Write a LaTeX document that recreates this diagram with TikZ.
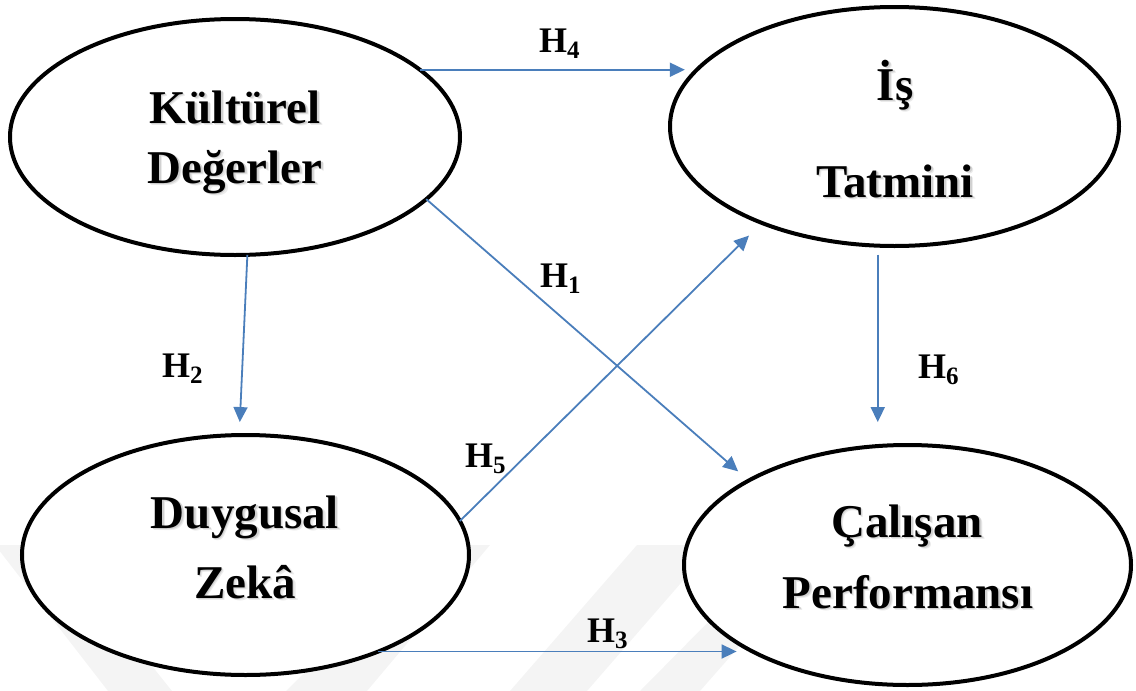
\documentclass[tikz,border=0pt]{standalone}
\usepackage{fontspec}
\setmainfont{Liberation Serif}
\usetikzlibrary{arrows.meta,shapes.geometric}
\definecolor{linkblue}{HTML}{4A7EBB}
\definecolor{wmgray}{gray}{0.955}
% bold title with a soft drop shadow
\newcommand\shadowed[1]{\makebox[0pt][l]{\kern2.6pt\raisebox{-2.6pt}{\textcolor{black!8}{#1}}}\makebox[0pt][l]{\kern1.5pt\raisebox{-1.5pt}{\textcolor{black!18}{#1}}}#1}
% hypothesis label H with a lowered index
\newcommand\hyp[1]{H\raisebox{-6pt}{\fontsize{25}{25}\selectfont #1}}
\begin{document}
\begin{tikzpicture}[x=1pt,y=-1pt,
  construct/.style={ellipse, draw=black, line width=4pt, fill=white, inner sep=0pt, outer sep=0pt},
  title/.style={font=\fontsize{47}{47}\selectfont\bfseries, inner sep=0pt, anchor=base},
  hlabel/.style={font=\fontsize{36}{36}\selectfont\bfseries, inner sep=0pt, anchor=base west},
  link/.style={draw=linkblue, line width=1.8pt, -{Triangle[length=15pt,width=14pt]}},
  band/.style={fill=wmgray, draw=none}]
\path[use as bounding box] (0,0) rectangle (1136,691);

% faint background stripes
\fill[band] (-5,545) -- (55,545) -- (172,691) -- (108,691) -- cycle;
\fill[band] (286,691) -- (367,691) -- (490,545) -- (434,545) -- cycle;
\fill[band] (510,691) -- (587,691) -- (714,545) -- (637,545) -- cycle;
\fill[band] (640,691) -- (700,691) -- (780,600) -- (730,600) -- cycle;

% constructs
\node[construct, minimum width=450pt, minimum height=236pt] (kd) at (235,137) {};
\node[construct, minimum width=449pt, minimum height=239pt] (is) at (894.5,126.5) {};
\node[construct, minimum width=447pt, minimum height=240pt] (dz) at (245.5,555) {};
\node[construct, minimum width=447pt, minimum height=240pt] (cp) at (907.5,565) {};

\node[title] (kd1) at (235,123) {\shadowed{Kültürel}};
\node[title] (kd2) at (235,183) {\shadowed{Değerler}};
\node[title] (is1) at (895,100) {\shadowed{İş}};
\node[title] (is2) at (895,197) {\shadowed{Tatmini}};
\node[title] (dz1) at (245,528) {\shadowed{Duygusal}};
\node[title] (dz2) at (245,598) {\shadowed{Zekâ}};
\node[title] (cp1) at (907,537) {\shadowed{Çalışan}};
\node[title] (cp2) at (908,608) {\shadowed{Performansı}};

% hypothesised paths
\draw[link, shorten >=15pt] (kd.20.8) -- (kd.20.8 -| is.163);
\draw[link, shorten >=14pt] (kd.-18) -- (cp.152.9);
\draw[link, shorten >=13pt] (kd.-84) -- (dz.93.75);
\draw[link, shorten >=18pt] (dz.9.1) -- (is.-144.5);
\draw[link, shorten <=9pt, shorten >=24pt] (is.-98.95) -- (is.-98.95 |- cp.104.8);
\draw[link, shorten >=22pt] (dz.-36.5) -- (dz.-36.5 -| cp.-149.4);

\node[hlabel] (h4) at (539,52) {\hyp{4}};
\node[hlabel] (h1) at (540,287) {\hyp{1}};
\node[hlabel] (h2) at (162,377) {\hyp{2}};
\node[hlabel] (h5) at (465,467) {\hyp{5}};
\node[hlabel] (h6) at (918,378) {\hyp{6}};
\node[hlabel] (h3) at (587,642) {\hyp{3}};
\end{tikzpicture}
\end{document}
